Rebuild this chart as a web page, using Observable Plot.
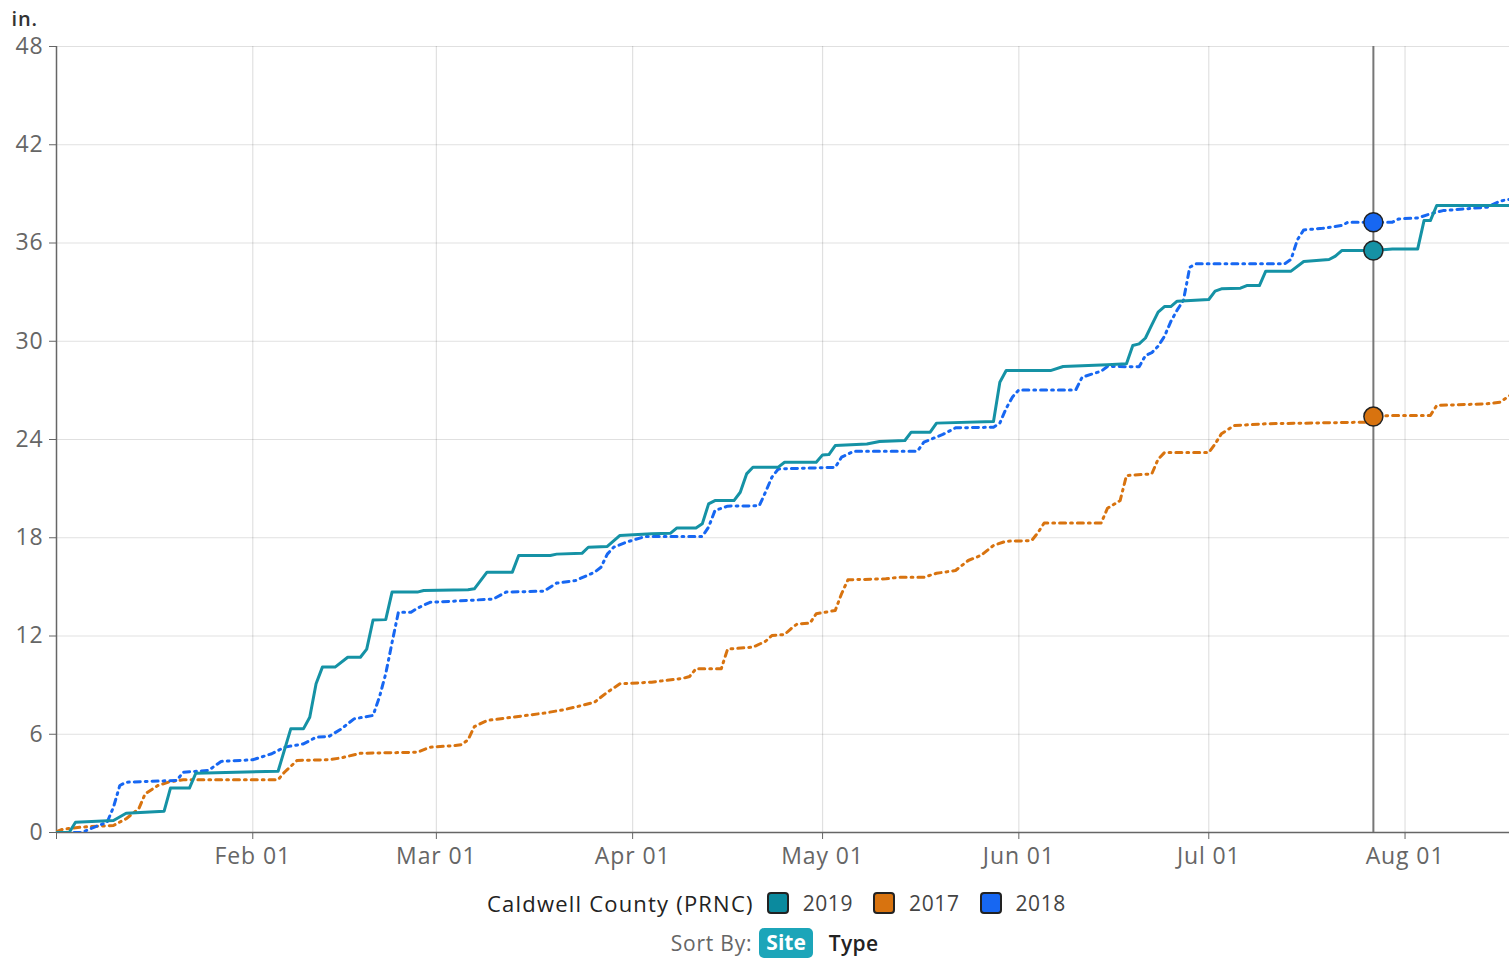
<!DOCTYPE html>
<html>
<head>
<meta charset="utf-8">
<script src="https://cdn.jsdelivr.net/npm/d3@7"></script>
<script src="https://cdn.jsdelivr.net/npm/@observablehq/plot@0.6"></script>
<style>
  html, body { margin: 0; padding: 0; background: #fff; overflow: hidden; }
  body { font-family: "Open Sans", "Noto Sans", sans-serif; }
  #chart svg { display: block; }
  .legend { display: flex; justify-content: center; align-items: center; margin-top: 8px; padding-left: 44px; font-size: 21px; color: #333; }
  .legend .site { margin-right: 13px; color: #222; font-size: 22px; letter-spacing: 1.2px; }
  .legend .item { display: flex; align-items: center; margin-right: 20px; color: #444; letter-spacing: 0.6px; }
  .legend .item:last-child { margin-right: 0; }
  .legend .sw { width: 18px; height: 18px; border: 2.5px solid #222; border-radius: 4px; margin-right: 14px; }
  .sort { display: flex; justify-content: center; align-items: center; margin-top: 10px; padding-left: 40px; font-size: 21px; color: #666; letter-spacing: 0.8px; }
  .sort .pill { background: #1ca5b9; color: #fff; font-weight: 700; border-radius: 5px; padding: 0 7px 2px; margin: 0 16px 0 7px; letter-spacing: 0; }
  .sort .type { color: #222; font-weight: 600; letter-spacing: 0.3px; }
</style>
</head>
<body>
<div id="chart"></div>
<div class="legend" id="legend"></div>
<div class="sort">Sort By: <span class="pill">Site</span><span class="type">Type</span></div>
<script>
const baseYear = 2020;           // leap-year calendar used for the day axis
const siteName = "Caldwell County (PRNC)";
const seriesNames = ["2019", "2017", "2018"];
const seriesColors = ["#1592a5", "#d8730f", "#1767f2"];
const swatchColors = ["#0b8a9e", "#d8730f", "#1767f2"];
const monthTickDates = ["01-01", "02-01", "03-01", "04-01", "05-01", "06-01", "07-01", "08-01"];
const yTicks = [0, 6, 12, 18, 24, 30, 36, 42, 48];
const yLabel = "in.";
const hoverDate = "07-27";
const hoverValues = [35.54, 25.4, 37.27];   // 2019, 2017, 2018

const s2019 = [
  ["01-01",0],["01-03",0],["01-04",0.63],["01-10",0.73],["01-12",1.18],["01-18",1.30],["01-19",2.71],
  ["01-22",2.71],["01-23",3.62],["02-05",3.74],["02-07",6.33],["02-09",6.33],["02-10",7.04],["02-11",9.08],
  ["02-12",10.1],["02-14",10.1],["02-16",10.7],["02-18",10.7],["02-19",11.2],["02-20",12.98],["02-22",13.0],
  ["02-23",14.68],["02-27",14.68],["02-28",14.78],["03-06",14.82],["03-07",14.88],["03-09",15.9],["03-13",15.9],
  ["03-14",16.92],["03-19",16.92],["03-20",17.0],["03-24",17.05],["03-25",17.42],["03-28",17.47],["03-30",18.14],
  ["04-04",18.24],["04-07",18.28],["04-08",18.6],["04-11",18.6],["04-12",18.85],["04-13",20.07],["04-14",20.27],
  ["04-17",20.27],["04-18",20.78],["04-19",21.9],["04-20",22.31],["04-24",22.31],["04-25",22.61],["04-30",22.61],
  ["05-01",23.06],["05-02",23.08],["05-03",23.63],["05-08",23.73],["05-10",23.88],["05-14",23.94],["05-15",24.45],
  ["05-18",24.45],["05-19",25.0],["05-28",25.1],["05-29",27.5],["05-30",28.21],["06-06",28.21],["06-08",28.46],
  ["06-15",28.56],["06-18",28.62],["06-19",29.74],["06-20",29.84],["06-21",30.2],["06-22",31.0],["06-23",31.78],
  ["06-24",32.12],["06-25",32.12],["06-26",32.45],["07-01",32.55],["07-02",33.06],["07-03",33.2],["07-06",33.24],
  ["07-07",33.4],["07-09",33.4],["07-10",34.28],["07-14",34.28],["07-16",34.87],["07-20",34.99],["07-21",35.2],
  ["07-22",35.54],["07-27",35.54],["07-30",35.64],["08-03",35.64],["08-04",37.37],["08-05",37.37],["08-06",38.29],
  ["08-18",38.29]
];
const s2017 = [
  ["01-01",0.05],["01-02",0.2],["01-05",0.33],["01-10",0.43],["01-12",0.84],["01-14",1.45],["01-15",2.36],
  ["01-17",2.87],["01-19",3.11],["01-21",3.22],["02-05",3.22],["02-06",3.68],["02-08",4.4],["02-13",4.44],
  ["02-15",4.56],["02-18",4.84],["02-27",4.9],["02-29",5.21],["03-04",5.31],["03-05",5.37],["03-06",5.66],
  ["03-07",6.47],["03-09",6.84],["03-13",7.04],["03-18",7.29],["03-21",7.49],["03-24",7.76],["03-26",7.96],
  ["03-28",8.57],["03-30",9.08],["04-04",9.18],["04-09",9.42],["04-10",9.53],["04-11",10.0],["04-15",10.0],
  ["04-16",11.2],["04-20",11.32],["04-22",11.68],["04-23",12.03],["04-25",12.09],["04-26",12.44],["04-27",12.74],
  ["04-29",12.78],["04-30",13.36],["05-03",13.56],["05-04",14.58],["05-05",15.43],["05-11",15.49],["05-13",15.59],
  ["05-17",15.59],["05-19",15.83],["05-22",16.0],["05-24",16.61],["05-26",16.92],["05-28",17.53],["05-30",17.79],
  ["06-03",17.82],["06-04",18.3],["06-05",18.9],["06-14",18.9],["06-15",19.8],["06-17",20.27],["06-18",21.8],
  ["06-22",21.9],["06-23",22.8],["06-24",23.2],["07-01",23.2],["07-02",23.73],["07-03",24.35],["07-05",24.85],
  ["07-10",24.96],["07-26",25.06],["07-27",25.4],["07-30",25.47],["08-05",25.47],["08-06",26.08],["08-14",26.18],
  ["08-16",26.28],["08-18",26.8]
];
const s2018 = [
  ["01-01",0],["01-05",0],["01-07",0.33],["01-09",0.63],["01-10",1.55],["01-11",2.87],["01-12",3.07],
  ["01-20",3.18],["01-21",3.68],["01-25",3.79],["01-27",4.34],["02-01",4.44],["02-04",4.81],["02-06",5.21],
  ["02-09",5.41],["02-11",5.82],["02-13",5.86],["02-15",6.33],["02-17",6.94],["02-20",7.15],["02-21",8.26],
  ["02-22",9.69],["02-23",11.6],["02-24",13.45],["02-26",13.45],["02-27",13.7],["02-29",14.06],["03-06",14.17],
  ["03-10",14.26],["03-12",14.68],["03-18",14.74],["03-20",15.23],["03-23",15.39],["03-26",15.9],["03-27",16.2],
  ["03-28",17.0],["03-29",17.42],["03-31",17.73],["04-03",18.08],["04-12",18.08],["04-13",18.65],["04-14",19.66],
  ["04-16",19.93],["04-21",19.95],["04-22",20.8],["04-23",21.7],["04-24",22.2],["05-03",22.3],["05-04",22.92],
  ["05-06",23.29],["05-16",23.29],["05-17",23.84],["05-20",24.31],["05-22",24.71],["05-28",24.75],["05-29",25.0],
  ["05-30",25.9],["05-31",26.6],["06-01",27.03],["06-10",27.03],["06-11",27.81],["06-14",28.17],["06-15",28.46],
  ["06-20",28.44],["06-21",29.13],["06-22",29.3],["06-23",29.7],["06-24",30.3],["06-25",31.2],["06-26",31.9],
  ["06-27",32.5],["06-28",34.52],["06-29",34.73],["07-13",34.73],["07-14",35.0],["07-15",36.2],["07-16",36.8],
  ["07-19",36.9],["07-22",37.07],["07-23",37.27],["07-27",37.27],["07-30",37.27],["07-31",37.47],["08-03",37.53],
  ["08-05",37.78],["08-07",37.98],["08-14",38.19],["08-16",38.56],["08-18",38.7]
];

const parse = md => new Date(`${baseYear}-${md}T00:00:00Z`);
const seriesData = {"2019": s2019, "2017": s2017, "2018": s2018};
const rows = seriesNames.flatMap(name => seriesData[name].map(([d, v]) => ({year: name, date: parse(d), value: v})));
const hoverRows = seriesNames.map((name, i) => ({year: name, date: parse(hoverDate), value: hoverValues[i]}));
const xStart = parse("01-01");
const xEnd = new Date(Date.UTC(baseYear, 7, 17, 12));
const monthTicks = monthTickDates.map(parse);
const colorScale = {type: "ordinal", domain: seriesNames, range: seriesColors};
const dash = "6,5,1.8,5";

const chart = Plot.plot({
  width: 1509,
  height: 880,
  marginLeft: 56,
  marginRight: 0,
  marginTop: 46,
  marginBottom: 48,
  style: {fontFamily: "'Open Sans', 'Noto Sans', sans-serif", fontSize: "23px", color: "#666", background: "#fff", overflow: "visible", letterSpacing: "0.9px"},
  x: {type: "utc", domain: [xStart, xEnd]},
  y: {domain: [0, 48]},
  color: colorScale,
  marks: [
    Plot.gridX(monthTicks.slice(1), {stroke: "#000", strokeOpacity: 0.12, strokeWidth: 1.2}),
    Plot.gridY(yTicks, {stroke: "#000", strokeOpacity: 0.12, strokeWidth: 1.2}),
    Plot.axisX(monthTicks, {tickSize: 7, tickPadding: 8, stroke: "#666", tickFormat: d => d.getUTCMonth() === 0 ? "" : d3.utcFormat("%b %d")(d), label: null, fill: "#666"}),
    Plot.axisY(yTicks, {tickSize: 7, tickPadding: 6, stroke: "#666", label: null, fill: "#666"}),
    Plot.ruleY([0], {stroke: "#666", strokeWidth: 1.5}),
    Plot.ruleX([xStart], {stroke: "#666", strokeWidth: 1.5}),
    Plot.text([yLabel], {frameAnchor: "top-left", dx: -45, dy: -21, lineAnchor: "bottom", fill: "#333", fontWeight: 600, fontSize: 20, letterSpacing: 0}),
    Plot.ruleX([parse(hoverDate)], {stroke: "#777", strokeWidth: 2}),
    Plot.line(rows.filter(r => r.year === "2017"), {x: "date", y: "value", stroke: "year", strokeWidth: 3, strokeDasharray: dash, clip: true}),
    Plot.line(rows.filter(r => r.year === "2018"), {x: "date", y: "value", stroke: "year", strokeWidth: 3, strokeDasharray: dash, clip: true}),
    Plot.line(rows.filter(r => r.year === "2019"), {x: "date", y: "value", stroke: "year", strokeWidth: 3, clip: true}),
    Plot.dot(hoverRows, {x: "date", y: "value", fill: "year", r: 9.5, stroke: "#222", strokeWidth: 1.5})
  ]
});
document.getElementById("chart").appendChild(chart);

const legend = document.getElementById("legend");
legend.innerHTML = `<span class="site">${siteName}</span>` +
  seriesNames.map((n, i) => `<span class="item"><span class="sw" style="background:${swatchColors[i]}"></span>${n}</span>`).join("");
</script>
</body>
</html>
